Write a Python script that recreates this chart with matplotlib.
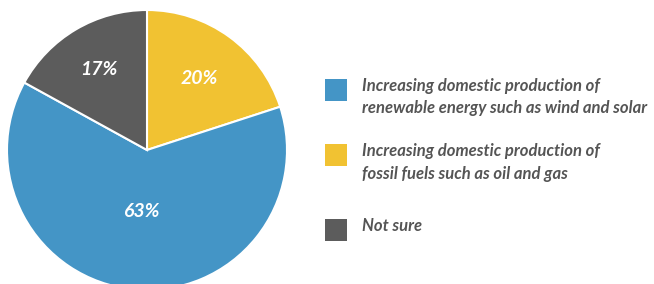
import numpy as np
import matplotlib.pyplot as plt
from matplotlib.patches import Rectangle

# Survey shares
labels = ['Increasing domestic production of\nrenewable energy such as wind and solar',
          'Increasing domestic production of\nfossil fuels such as oil and gas',
          'Not sure']
values = [63, 20, 17]
colors = ['#4495C6', '#F1C232', '#5C5C5C']

# pie drawing order (clockwise from 12 o'clock)
pie_order = [1, 0, 2]
label_dist = [0.63, 0.44, 0.67]  # radial position of % labels, per pie_order

W, H = 654, 284
fig = plt.figure(figsize=(W / 100, H / 100), dpi=100)

# pie axes: centre ~ (147, 150) px, radius ~140 px
cx, cy, r = 147, 150, 140
ax = fig.add_axes([(cx - r) / W, (H - cy - r) / H, 2 * r / W, 2 * r / H])
wedges, _ = ax.pie([values[i] for i in pie_order],
                   colors=[colors[i] for i in pie_order],
                   startangle=90, counterclock=False, radius=1,
                   wedgeprops=dict(edgecolor='white', linewidth=1.5))
ax.set_xlim(-1, 1)
ax.set_ylim(-1, 1)
ax.set_aspect('equal')
ax.axis('off')

for w, i, d in zip(wedges, pie_order, label_dist):
    ang = np.deg2rad((w.theta1 + w.theta2) / 2)
    ax.text(d * np.cos(ang), d * np.sin(ang), f'{values[i]}%',
            ha='center', va='center', color='white', fontsize=14,
            family='Lato', style='italic', weight='bold')

# legend
sq = 22
box_x = 325
box_y = [79, 144, 219]
text_x = 362
for lab, col, by in zip(labels, colors, box_y):
    fig.patches.append(Rectangle((box_x / W, (H - by - sq) / H), sq / W, sq / H,
                                 transform=fig.transFigure, facecolor=col,
                                 edgecolor='none'))
    fig.text(text_x / W, (H - by + 1) / H, lab, ha='left', va='top',
             color='#555555', fontsize=12, family='Lato', style='italic',
             weight='bold', linespacing=1.5)

fig.savefig('out.png', dpi=100)
